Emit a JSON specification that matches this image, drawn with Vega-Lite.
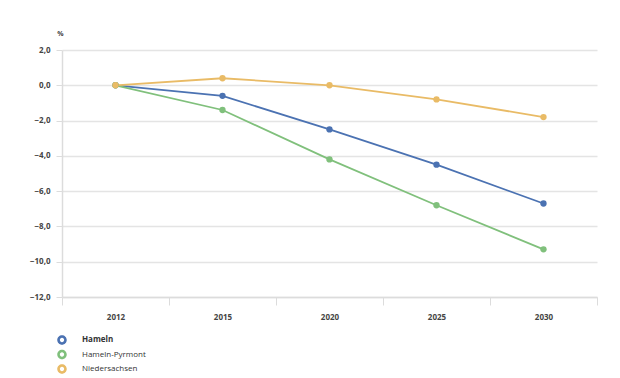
{
  "$schema": "https://vega.github.io/schema/vega-lite/v6.json",
  "autosize": "none",
  "width": 535,
  "height": 247,
  "padding": {"left": 62, "top": 50, "right": 23, "bottom": 81},
  "background": "white",
  "config": {
    "font": "Open Sans",
    "view": {"stroke": null}
  },
  "data": {
    "values": [
      {"year": "2012", "region": "Hameln", "value": 0},
      {"year": "2015", "region": "Hameln", "value": -0.6},
      {"year": "2020", "region": "Hameln", "value": -2.5},
      {"year": "2025", "region": "Hameln", "value": -4.5},
      {"year": "2030", "region": "Hameln", "value": -6.7},
      {"year": "2012", "region": "Hameln-Pyrmont", "value": 0},
      {"year": "2015", "region": "Hameln-Pyrmont", "value": -1.4},
      {"year": "2020", "region": "Hameln-Pyrmont", "value": -4.2},
      {"year": "2025", "region": "Hameln-Pyrmont", "value": -6.8},
      {"year": "2030", "region": "Hameln-Pyrmont", "value": -9.3},
      {"year": "2012", "region": "Niedersachsen", "value": 0},
      {"year": "2015", "region": "Niedersachsen", "value": 0.4},
      {"year": "2020", "region": "Niedersachsen", "value": 0.0},
      {"year": "2025", "region": "Niedersachsen", "value": -0.8},
      {"year": "2030", "region": "Niedersachsen", "value": -1.8}
    ]
  },
  "encoding": {
    "x": {
      "field": "year", "type": "ordinal", "title": null,
      "scale": {"paddingInner": 0, "paddingOuter": 0},
      "axis": {
        "labelAngle": 0, "labelFontSize": 8, "labelColor": "#444", "labelFontWeight": "bold",
        "labelPadding": 8, "tickBand": "extent", "tickSize": 8, "tickColor": "#dcdcdc",
        "domainColor": "#dcdcdc", "domainWidth": 1.5, "grid": false
      }
    },
    "y": {
      "field": "value", "type": "quantitative", "title": "%",
      "scale": {"domain": [-12, 2], "nice": false},
      "axis": {
        "values": [-12, -10, -8, -6, -4, -2, 0, 2],
        "labelExpr": "replace(format(datum.value, '.1f'), '.', ',')",
        "labelFontSize": 8, "labelColor": "#444", "labelFontWeight": "bold", "labelPadding": 6,
        "tickSize": 6, "tickColor": "#dcdcdc", "domainColor": "#dcdcdc", "domainWidth": 1.5,
        "gridColor": "#e4e4e4", "gridWidth": 1.5,
        "titleAngle": 0, "titleX": -2, "titleY": -14, "titleAlign": "center", "titleBaseline": "bottom",
        "titleFontSize": 7, "titleFontWeight": "bold", "titleColor": "#444"
      }
    }
  },
  "layer": [
    {
      "mark": {"type": "line", "strokeWidth": 1.8},
      "encoding": {
        "color": {
          "field": "region", "type": "nominal", "title": null,
          "scale": {"domain": ["Hameln", "Hameln-Pyrmont", "Niedersachsen"], "range": ["#4b72b2", "#80c07c", "#e9bb66"]},
          "legend": {
            "orient": "none", "legendX": -5, "legendY": 285, "direction": "vertical",
            "symbolType": "M-1,0A1,1,0,1,1,1,0A1,1,0,1,1,-1,0ZM-0.45,0A0.45,0.45,0,1,0,0.45,0A0.45,0.45,0,1,0,-0.45,0Z",
            "symbolStrokeWidth": 0, "symbolSize": 90,
            "labelFontSize": 8, "labelColor": "#333", "labelOffset": 15, "rowPadding": 4.5,
            "encode": {
              "labels": {"update": {"fontWeight": {"signal": "datum.label === 'Hameln' ? 'bold' : 'normal'"}}}
            }
          }
        }
      }
    },
    {
      "mark": {"type": "point", "filled": true, "size": 40, "opacity": 1},
      "encoding": {
        "color": {"field": "region", "type": "nominal", "legend": null}
      }
    }
  ]
}
